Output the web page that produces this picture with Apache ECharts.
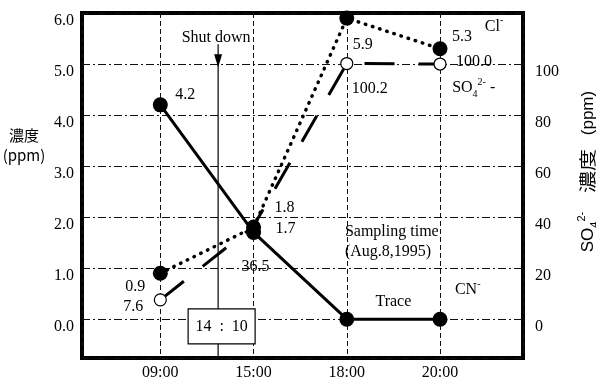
<!DOCTYPE html>
<html>
<head>
<meta charset="utf-8">
<script src="https://cdn.jsdelivr.net/npm/echarts@6/dist/echarts.min.js"></script>
<style>
  html, body { margin: 0; padding: 0; background: #fff; }
  #chart { width: 596px; height: 381px; }
</style>
</head>
<body>
<div id="chart"></div>
<script>
// sampling times (equally spaced on the chart)
const times = ['09:00', '15:00', '18:00', '20:00'];
// Cl- and CN- in ppm (left axis), SO4 2- in ppm (right axis)
const clValues = [0.9, 1.8, 5.9, 5.3];
const cnValues = [4.2, 1.7, 0, 0];
const so4Values = [7.6, 36.5, 100.2, 100.0];
const leftTicks = [0, 1, 2, 3, 4, 5, 6];
const rightTicks = [0, 20, 40, 60, 80, 100];
const shutdownLabel = '14  :  10';

// label offsets (px) from each point
const clOffsets = [[-25, 14], [31, -20], [16, 27], [22, -12]];
const cnOffsets = [[25, -10], [32, -4], null, null];
const so4Offsets = [[-27, 7], [2, 41], [23, 25], [34, -2]];

const serif = '"Liberation Serif", "Times New Roman", serif';
const cjk = '"Noto Sans CJK JP", "Noto Sans CJK TC", sans-serif';

const chart = echarts.init(document.getElementById('chart'));

const mkData = (vals, offsets) => vals.map((v, i) => ({
    value: [i, v],
    label: offsets[i] ? { show: true, offset: offsets[i] } : { show: false }
}));

const pointLabel = {
    show: true,
    position: 'inside',
    color: '#000',
    fontFamily: serif,
    fontSize: 16,
    formatter: (p) => p.value[1].toFixed(1)
};

const option = {
    animation: false,
    backgroundColor: '#fff',
    grid: {
        left: 82, right: 73, top: 13, bottom: 23,
        show: true, borderColor: '#000', borderWidth: 4,
        outerBoundsMode: 'none'
    },
    xAxis: {
        type: 'value',
        min: -0.84, max: 3.89,
        axisLine: { show: false },
        axisTick: { show: false },
        axisLabel: {
            color: '#000', fontFamily: serif, fontSize: 16, margin: 7,
            formatter: (v) => (Number.isInteger(v) && times[v]) ? times[v] : ''
        },
        splitLine: { show: true, lineStyle: { color: '#111', width: 1, type: [5, 3] } }
    },
    yAxis: [
        {
            type: 'value',
            min: -0.76, max: 6, splitNumber: 7,
            axisLine: { show: false },
            axisTick: { show: false },
            axisLabel: {
                color: '#000', fontFamily: serif, fontSize: 16, margin: 8,
                verticalAlign: 'top',
                formatter: (v) => leftTicks.includes(v) ? v.toFixed(1) : ''
            },
            splitLine: { show: true, lineStyle: { color: '#111', width: 1, type: [8, 3, 2, 3] } }
        },
        {
            type: 'value',
            min: -15.2, max: 120, splitNumber: 7,
            axisLine: { show: false },
            axisTick: { show: false },
            axisLabel: {
                color: '#000', fontFamily: serif, fontSize: 16, margin: 12,
                verticalAlign: 'top',
                formatter: (v) => rightTicks.includes(v) ? String(v) : ''
            },
            splitLine: { show: false }
        }
    ],
    series: [
        {
            name: 'SO4',
            type: 'line',
            yAxisIndex: 1,
            clip: false,
            data: mkData(so4Values, so4Offsets),
            symbol: 'circle',
            symbolSize: 12,
            itemStyle: { color: '#fff', borderColor: '#000', borderWidth: 1.2 },
            lineStyle: { color: '#000', width: 3, type: [30, 24] },
            label: pointLabel,
            z: 2
        },
        {
            name: 'Cl',
            type: 'line',
            clip: false,
            data: mkData(clValues, clOffsets),
            symbol: 'circle',
            symbolSize: 15,
            itemStyle: { color: '#000' },
            lineStyle: { color: '#000', width: 3.5, type: [0.5, 7], cap: 'round' },
            label: pointLabel,
            z: 3
        },
        {
            name: 'CN',
            type: 'line',
            clip: false,
            data: mkData(cnValues, cnOffsets),
            symbol: 'circle',
            symbolSize: 15,
            itemStyle: { color: '#000' },
            lineStyle: { color: '#000', width: 3 },
            label: pointLabel,
            z: 4
        }
    ]
};

chart.setOption(option);

// annotations placed through the chart's own scales
const px = (x, v) => [chart.convertToPixel({ xAxisIndex: 0 }, x), chart.convertToPixel({ yAxisIndex: 0 }, v)];
const shutdownAt = 0.62;
const [sx, sTop] = px(shutdownAt, 5.39);
const sBottom = px(shutdownAt, -0.76)[1];
const [, boxY] = px(shutdownAt, -0.13);

const txt = (x, y, text, extra) => ({
    type: 'text', x, y, z: 10,
    style: Object.assign({
        text, fill: '#000', fontFamily: serif, fontSize: 16,
        align: 'left', verticalAlign: 'middle',
        textAlign: 'left', textVerticalAlign: 'middle'
    }, extra || {})
});

const supRich = {
    a: { fontFamily: serif, fontSize: 16, lineHeight: 22, fill: '#000' },
    sup: { fontFamily: serif, fontSize: 10, verticalAlign: 'top', fill: '#000' },
    sub: { fontFamily: serif, fontSize: 10, verticalAlign: 'bottom', fill: '#000' }
};

const p1 = px(3.48, 5.73);
const p2 = px(3.13, 4.53);
const p3 = px(3.16, 0.57);
const p4 = px(1.98, 1.51);
const p5 = px(2.5, 0.34);

const sansR = '"Liberation Sans", Arial, sans-serif';
const rotRich = {
    a: { fontFamily: sansR, fontSize: 17, lineHeight: 24, fill: '#000' },
    sup: { fontFamily: sansR, fontSize: 11, verticalAlign: 'top', fill: '#000' },
    sub: { fontFamily: sansR, fontSize: 11, verticalAlign: 'bottom', fill: '#000' }
};

chart.setOption({
    graphic: [
        // shut-down marker
        { type: 'line', z: 8, shape: { x1: sx, y1: sTop, x2: sx, y2: sBottom }, style: { stroke: '#000', lineWidth: 1.2 } },
        { type: 'polygon', z: 9, shape: { points: [[sx - 4, sTop + 10], [sx + 4, sTop + 10], [sx, sTop + 23]] }, style: { fill: '#000' } },
        txt(sx - 2, sTop - 6, 'Shut down', { align: 'center', textAlign: 'center' }),
        { type: 'rect', z: 9, shape: { x: sx - 30, y: boxY - 17, width: 67, height: 35 }, style: { fill: '#fff', stroke: '#000', lineWidth: 1.2 } },
        txt(sx + 3.5, boxY + 1, shutdownLabel, { align: 'center', textAlign: 'center' }),
        // species names
        txt(p1[0], p1[1], '{a|Cl}{sup|-}', { rich: supRich }),
        txt(p2[0], p2[1], '{a|SO}{sub|4}{sup|2-}{a| -}', { rich: supRich }),
        txt(p3[0], p3[1], '{a|CN}{sup|-}', { rich: supRich }),
        txt(p4[0], p4[1], 'Sampling time\n(Aug.8,1995)', { lineHeight: 20 }),
        txt(p5[0], p5[1], 'Trace', { align: 'center', textAlign: 'center' }),
        // left axis name
        txt(24, 145, '濃度\n(ppm)', { align: 'center', textAlign: 'center', lineHeight: 20, fontFamily: cjk + ',' + serif, fontSize: 15 }),
        // right axis name (rotated)
        { type: 'text', x: 588, y: 232, rotation: Math.PI / 2, z: 10,
          style: { text: '{a|SO}{sub|4}{sup|2-}', rich: rotRich, fill: '#000', align: 'center', verticalAlign: 'middle', textAlign: 'center', textVerticalAlign: 'middle' } },
        { type: 'text', x: 588, y: 171, rotation: Math.PI / 2, z: 10, scaleX: 1.3,
          style: { text: '濃度', fill: '#000', fontFamily: cjk, fontSize: 17, align: 'center', verticalAlign: 'middle', textAlign: 'center', textVerticalAlign: 'middle' } },
        { type: 'text', x: 588, y: 113, rotation: Math.PI / 2, z: 10,
          style: { text: '(ppm)', fill: '#000', fontFamily: sansR, fontSize: 17, align: 'center', verticalAlign: 'middle', textAlign: 'center', textVerticalAlign: 'middle' } }
    ]
});
</script>
</body>
</html>
